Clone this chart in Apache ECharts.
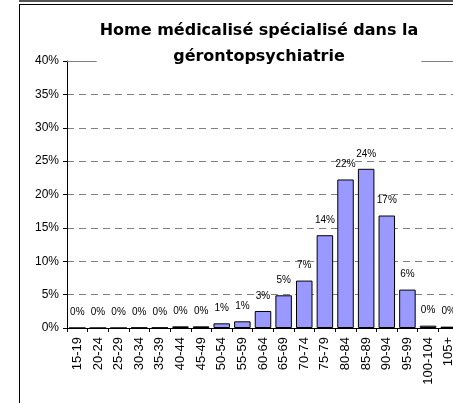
<!DOCTYPE html>
<html>
<head>
<meta charset="utf-8">
<script src="https://cdn.jsdelivr.net/npm/echarts@6.0.0/dist/echarts.min.js"></script>
<style>
  html, body { margin: 0; padding: 0; background: #fff; }
  #chart { width: 453px; height: 403px; }
</style>
</head>
<body>
<div id="chart"></div>
<script>
// tranches d'age
var ageGroups = ['15-19', '20-24', '25-29', '30-34', '35-39', '40-44', '45-49', '50-54', '55-59',
  '60-64', '65-69', '70-74', '75-79', '80-84', '85-89', '90-94', '95-99', '100-104', '105+'];
// part des residents (%)
var shares = [0, 0, 0, 0.05, 0.05, 0.25, 0.25, 0.7, 1.0, 2.55, 4.9, 7.1, 13.9, 22.25, 23.85, 16.85, 5.75, 0.35, 0.2];
var yTicks = [0, 5, 10, 15, 20, 25, 30, 35, 40];

var chart = echarts.init(document.getElementById('chart'), null, { renderer: 'canvas' });

var option = {
  backgroundColor: '#fff',
  animation: false,
  title: {
    text: 'Home médicalisé spécialisé dans la\ngérontopsychiatrie',
    left: 256,
    top: 16,
    textAlign: 'center',
    padding: [2, 3, 2, 3],
    backgroundColor: '#fff',
    textStyle: {
      fontFamily: 'DejaVu Sans',
      fontWeight: 'bold',
      fontSize: 16,
      lineHeight: 26,
      color: '#000'
    }
  },
  grid: {
    left: 67,
    top: 61,
    width: 392,
    height: 267,
    containLabel: false,
    outerBoundsMode: 'none'
  },
  xAxis: [{
    type: 'category',
    data: ageGroups,
    axisLine: { lineStyle: { color: '#000', width: 1 } },
    axisTick: { show: true, length: 4, lineStyle: { color: '#000' } },
    axisLabel: {
      rotate: 90,
      interval: 0,
      margin: 9,
      fontFamily: 'Liberation Sans',
      fontSize: 13,
      color: '#000'
    }
  }, {
    type: 'category',
    position: 'top',
    data: ageGroups,
    axisLine: { show: true, lineStyle: { color: '#808080', width: 1 } },
    axisTick: { show: false },
    axisLabel: { show: false }
  }],
  yAxis: {
    type: 'value',
    min: yTicks[0],
    max: yTicks[yTicks.length - 1],
    interval: 5,
    axisLine: { show: true, lineStyle: { color: '#000', width: 1 } },
    axisTick: { show: true, length: 4, lineStyle: { color: '#000' } },
    axisLabel: {
      formatter: '{value}%',
      margin: 8,
      fontFamily: 'Liberation Sans',
      fontSize: 12,
      color: '#000'
    },
    splitLine: {
      show: true,
      lineStyle: { color: '#808080', type: [7, 5], width: 1 }
    }
  },
  series: [{
    type: 'bar',
    data: shares,
    barCategoryGap: '20%',
    itemStyle: {
      color: '#9999FF',
      borderColor: '#000',
      borderWidth: 1
    },
    label: {
      show: true,
      position: 'top',
      distance: 10,
      fontFamily: 'Liberation Sans',
      fontSize: 10,
      color: '#000',
      formatter: function (p) { return Math.round(p.value) + '%'; }
    }
  }],
  graphic: [
    { type: 'rect', shape: { x: 19, y: 0, width: 434, height: 2 }, style: { fill: '#555' }, silent: true },
    { type: 'line', shape: { x1: 19, y1: 4.5, x2: 453, y2: 4.5 }, style: { stroke: '#000', lineWidth: 1 }, silent: true },
    { type: 'line', shape: { x1: 19.5, y1: 4, x2: 19.5, y2: 403 }, style: { stroke: '#000', lineWidth: 1 }, silent: true }
  ]
};

chart.setOption(option);
</script>
</body>
</html>
